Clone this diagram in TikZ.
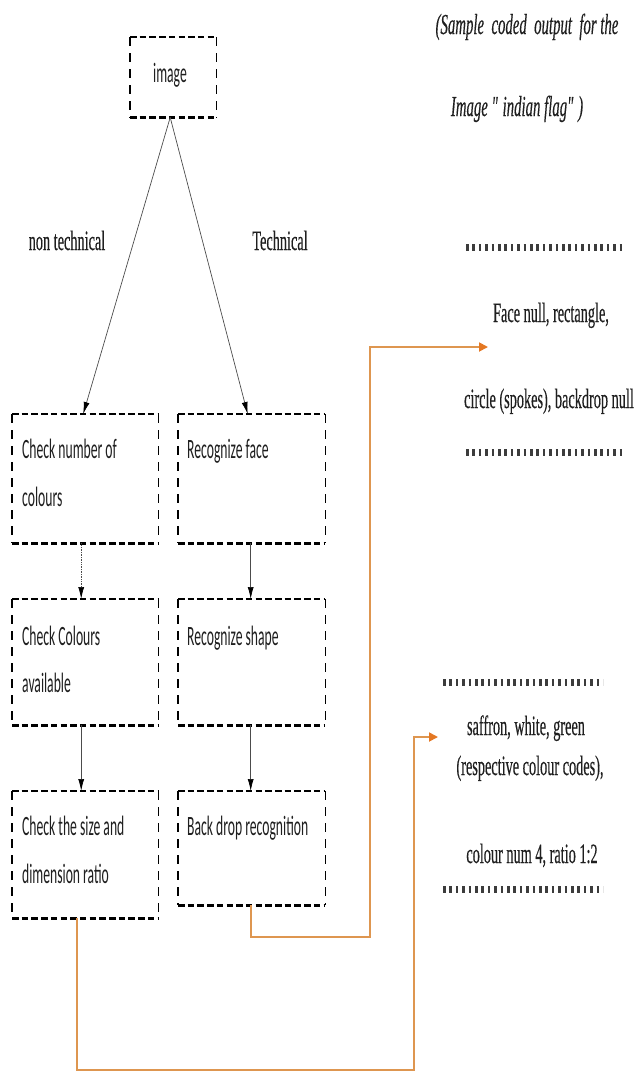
\documentclass[tikz,border=0pt]{standalone}
\usepackage{fontspec}
\setmainfont{Liberation Serif}[FakeStretch=0.51,FakeBold=0.3]
\newfontfamily\plainserif{Liberation Serif}[FakeStretch=0.51,FakeBold=0.3,Ligatures=ResetAll]
\newfontfamily\boxfont{Carlito}[FakeStretch=0.487]
\usetikzlibrary{arrows.meta}
\definecolor{orline}{RGB}{222,150,80}
\definecolor{orhead}{RGB}{228,120,35}
\definecolor{dotc}{RGB}{60,60,60}
\tikzset{
  flowbox/.style={draw=none, rectangle, inner sep=0pt, anchor=north west},
  hdash/.style={line width=2.4pt, dash pattern=on 6.5pt off 3.2pt, black},
  vdash/.style={line width=1.3pt, dash pattern=on 9pt off 7pt, black},
  btext/.style={font=\boxfont\fontsize{28}{30}\selectfont, anchor=base west, inner sep=0pt, text=black!88},
  stext/.style={font=\fontsize{28}{30}\selectfont, anchor=base, inner sep=0pt, text=black!88},
  itext/.style={font=\itshape\fontsize{29}{30}\selectfont, anchor=base, inner sep=0pt, text=black!88},
  conn/.style={draw=black!70, line width=0.7pt, -{Latex[length=12pt,width=6pt,black]}},
  dconn/.style={conn, densely dotted},
  orarrow/.style={draw=orline, line width=1.8pt, -{Triangle[length=9pt,width=9pt,color=orhead]}},
  dotsep/.style={draw=dotc, line width=7pt, dash pattern=on 2.6pt off 3.8pt},
}
\newcommand\dashedframe[1]{%
  \draw[hdash] (#1.north west) -- (#1.north east) (#1.south west) -- (#1.south east);
  \draw[vdash] (#1.north west) -- (#1.south west) (#1.north east) -- (#1.south east);}
\begin{document}
\begin{tikzpicture}[x=1pt,y=-1pt]
\useasboundingbox (0,0) rectangle (636,1074);
% boxes
\node[flowbox, minimum width=86pt, minimum height=80pt] (img) at (130,37) {};
\node[flowbox, minimum width=146pt, minimum height=129pt] (L1) at (12,414) {};
\node[flowbox, minimum width=147pt, minimum height=129pt] (R1) at (178,414) {};
\node[flowbox, minimum width=146pt, minimum height=126pt] (L2) at (12,599) {};
\node[flowbox, minimum width=147pt, minimum height=126pt] (R2) at (178,599) {};
\node[flowbox, minimum width=146pt, minimum height=127pt] (L3) at (12,791) {};
\node[flowbox, minimum width=147pt, minimum height=114pt] (R3) at (178,791) {};
\dashedframe{img}
\dashedframe{L1}\dashedframe{R1}
\dashedframe{L2}\dashedframe{R2}
\dashedframe{L3}\dashedframe{R3}
% box texts
\node[btext, anchor=base] (imgt) at (170,82) {image};
\node[btext] (L1a) at (22,458) {Check number of};
\node[btext] (L1b) at (22,506) {colours};
\node[btext] (R1a) at (187,458) {Recognize face};
\node[btext] (L2a) at (22,645) {Check Colours};
\node[btext] (L2b) at (22,692) {available};
\node[btext] (R2a) at (187,645) {Recognize shape};
\node[btext] (L3a) at (22,835) {Check the size and};
\node[btext] (L3b) at (22,883) {dimension ratio};
\node[btext] (R3a) at (187,835) {Back drop recognition};
% branch labels
\node[stext] (nt) at (67,250) {non technical};
\node[stext] (te) at (280,250) {Technical};
% right side texts
\node[itext] (s1) at (527,34) {(Sample\ \ coded\ \ output\ \ for the};
\node[itext, font=\plainserif\itshape\fontsize{29}{30}\selectfont] (s2) at (517,116) {Image "\,indian flag"\,)};
\node[stext] (f1) at (551,322) {Face null, rectangle,};
\node[stext] (f2) at (549,408) {circle (spokes), backdrop null};
\node[stext] (c1t) at (526,735) {saffron, white, green};
\node[stext] (c2t) at (530,775) {(respective colour codes),};
\node[stext] (c3t) at (532,863) {colour num 4, ratio 1:2};
% dotted separators
\draw[dotsep] (466,247) -- (625,247);
\draw[dotsep] (466,452) -- (625,452);
\draw[dotsep] (443,682) -- (603,682);
\draw[dotsep] (443,889) -- (603,889);
% connectors
\draw[conn] ([xshift=-3pt]img.south) -- ([xshift=-2pt]L1.north);
\draw[conn] ([xshift=-3pt]img.south) -- ([xshift=-4pt]R1.north);
\draw[dconn] ([xshift=-4pt]L1.south) -- ([xshift=-4pt]L2.north);
\draw[conn] ([xshift=-1pt]R1.south) -- ([xshift=-1pt]R2.north);
\draw[conn] ([xshift=-4pt]L2.south) -- ([xshift=-4pt]L3.north);
\draw[conn] ([xshift=-1pt]R2.south) -- ([xshift=-1pt]R3.north);
% orange connectors
\coordinate (o1) at (370,937);
\coordinate (o1e) at (488,347);
\draw[orarrow] ([xshift=-1pt]R3.south) |- (o1) |- (o1e);
\coordinate (o2) at (414,1070);
\coordinate (o2e) at (438,737);
\draw[orarrow] ([xshift=-8pt]L3.south) |- (o2) |- (o2e);
\end{tikzpicture}
\end{document}
